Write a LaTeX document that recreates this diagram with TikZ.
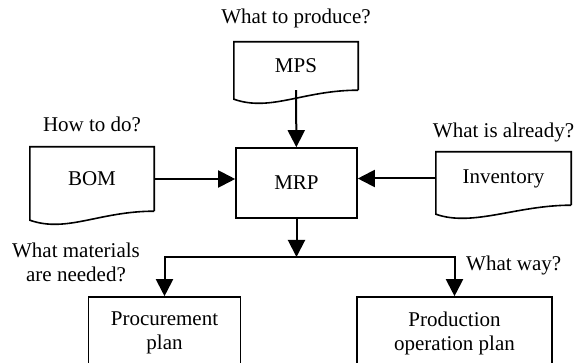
\documentclass[tikz,border=0pt]{standalone}
\usepackage{fontspec}
\setmainfont{Liberation Serif}
\usetikzlibrary{arrows.meta,positioning,calc}

\begin{document}
\begin{tikzpicture}[
x=1pt, y=-1pt,
font=\fontsize{21}{24}\selectfont,
box/.style={draw, line width=1.6pt, align=center, inner sep=0pt},
doc/.style={align=center, inner sep=0pt},
lbl/.style={align=center, inner sep=0pt},
arrow/.style={-{Triangle[length=17pt, width=17pt]}, line width=2pt}
]
\useasboundingbox (0,0) rectangle (579,363);
\clip (0,0) rectangle (579,363);
% documents
\node[doc, minimum width=124pt, minimum height=48pt] (mps) at (296,66) {MPS};
\node[doc, minimum width=124pt, minimum height=64pt, text depth=-10pt] (bom) at (92,179) {BOM};
\node[doc, minimum width=135pt, minimum height=53pt] (inv) at (503.5,178.5) {Inventory};
\foreach \d in {mps,bom,inv}
  \draw[line width=1.6pt] (\d.south east) -- (\d.north east) -- (\d.north west) -- ($(\d.south west)+(0,9)$)
    .. controls ($(\d.south west)+(37,22)$) and ($(\d.south east)+(-55,0)$) .. (\d.south east);
% processes
\node[box, minimum width=121pt, minimum height=70pt] (mrp) at (296.5,183) {MRP};
\node[box, minimum width=152pt, minimum height=72pt] (proc) at (164.5,333) {Procurement\\plan};
\node[box, minimum width=195pt, minimum height=72pt] (prod) at (454.5,333) {Production\\operation plan};
% questions
\node[lbl, above=14pt of mps] (qmps) {What to produce?};
\node[lbl, above=15pt of bom] (qbom) {How to do?};
\node[lbl, above=10pt of inv] (qinv) {What is already?};
\node[lbl] (qmat) at (76,262) {What materials\\are needed?};
\node[lbl, anchor=west] (qway) at (466,265) {What way?};
% connectors
\coordinate (split) at (296.5,257);
\draw[arrow] (mps) -- (mrp);
\draw[arrow] (bom.east) -- (bom.east -| mrp.west);
\draw[arrow] (inv.west) -- (inv.west -| mrp.east);
\draw[arrow] (mrp) -- (split);
\draw[arrow] (split) -| (proc.north);
\draw[arrow] (split) -| (prod.north);
\end{tikzpicture}
\end{document}
